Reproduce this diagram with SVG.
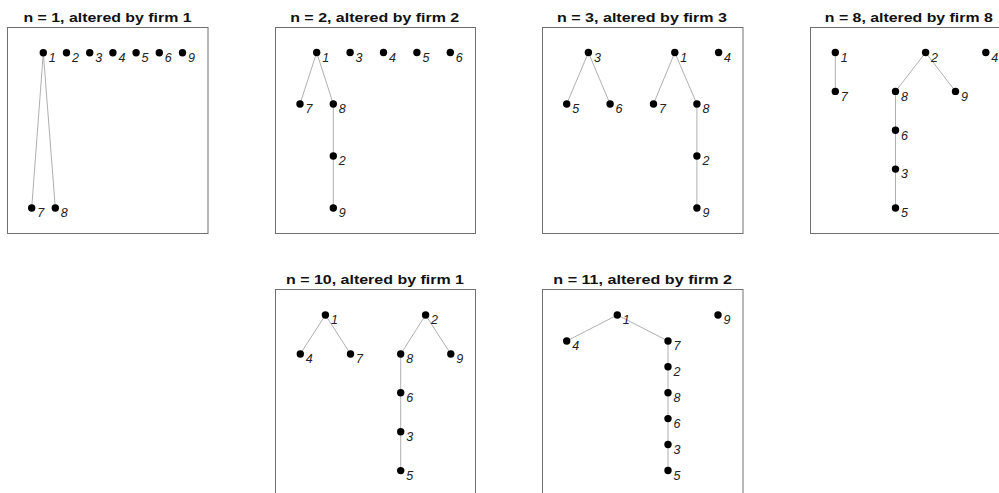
<svg xmlns="http://www.w3.org/2000/svg" width="999" height="493" viewBox="0 0 999 493">
<style>
.box{fill:#fff;stroke:#707070;stroke-width:1}
.title{font-family:"Liberation Sans",Arial,sans-serif;font-weight:bold;font-size:13.5px;fill:#111;text-anchor:middle}
.e{stroke:#b0b0b0;stroke-width:1;fill:none}
.d{fill:#000}
.l{font-family:"Liberation Sans",Arial,sans-serif;font-style:italic;font-size:12.5px;fill:#222}
</style>
<defs>
<circle id="dot" r="3.7" class="d"/>
</defs>
<rect width="999" height="493" fill="#fff"/>

<!-- Panel 1 -->
<g id="panel1">
<rect class="box" x="7.5" y="27.5" width="200.5" height="206"/>
<text class="title" x="107.5" y="21.7" textLength="168" lengthAdjust="spacingAndGlyphs">n = 1, altered by firm 1</text>
<g id="p1-edges">
<line class="e" x1="43.3" y1="52.7" x2="31.7" y2="208"/>
<line class="e" x1="43.3" y1="52.7" x2="55.3" y2="208"/>
</g>
<g id="p1-n1"><use href="#dot" x="43.3" y="52.7"/><text class="l" x="48.8" y="62">1</text></g>
<g id="p1-n2"><use href="#dot" x="66.5" y="52.7"/><text class="l" x="72" y="62">2</text></g>
<g id="p1-n3"><use href="#dot" x="89.7" y="52.7"/><text class="l" x="95.2" y="62">3</text></g>
<g id="p1-n4"><use href="#dot" x="112.9" y="52.7"/><text class="l" x="118.4" y="62">4</text></g>
<g id="p1-n5"><use href="#dot" x="136.1" y="52.7"/><text class="l" x="141.6" y="62">5</text></g>
<g id="p1-n6"><use href="#dot" x="159.3" y="52.7"/><text class="l" x="164.8" y="62">6</text></g>
<g id="p1-n9"><use href="#dot" x="182.5" y="52.7"/><text class="l" x="188" y="62">9</text></g>
<g id="p1-n7"><use href="#dot" x="31.7" y="208"/><text class="l" x="37.2" y="217.3">7</text></g>
<g id="p1-n8"><use href="#dot" x="55.3" y="208"/><text class="l" x="60.8" y="217.3">8</text></g>
</g>

<!-- Panel 2 -->
<g id="panel2">
<rect class="box" x="275.5" y="27.5" width="200" height="206"/>
<text class="title" x="374.7" y="21.7" textLength="169" lengthAdjust="spacingAndGlyphs">n = 2, altered by firm 2</text>
<g id="p2-edges">
<line class="e" x1="316.7" y1="52.5" x2="300" y2="104"/>
<line class="e" x1="316.7" y1="52.5" x2="333.3" y2="104"/>
<line class="e" x1="333.3" y1="104" x2="333.3" y2="156"/>
<line class="e" x1="333.3" y1="156" x2="333.3" y2="208"/>
</g>
<g id="p2-n1"><use href="#dot" x="316.7" y="52.5"/><text class="l" x="322.2" y="61.8">1</text></g>
<g id="p2-n3"><use href="#dot" x="350.1" y="52.5"/><text class="l" x="355.6" y="61.8">3</text></g>
<g id="p2-n4"><use href="#dot" x="383.5" y="52.5"/><text class="l" x="389" y="61.8">4</text></g>
<g id="p2-n5"><use href="#dot" x="416.9" y="52.5"/><text class="l" x="422.4" y="61.8">5</text></g>
<g id="p2-n6"><use href="#dot" x="450.3" y="52.5"/><text class="l" x="455.8" y="61.8">6</text></g>
<g id="p2-n7"><use href="#dot" x="300" y="104"/><text class="l" x="305.5" y="113.3">7</text></g>
<g id="p2-n8"><use href="#dot" x="333.3" y="104"/><text class="l" x="338.8" y="113.3">8</text></g>
<g id="p2-n2"><use href="#dot" x="333.3" y="156"/><text class="l" x="338.8" y="165.3">2</text></g>
<g id="p2-n9"><use href="#dot" x="333.3" y="208"/><text class="l" x="338.8" y="217.3">9</text></g>
</g>

<!-- Panel 3 -->
<g id="panel3">
<rect class="box" x="542.5" y="27.5" width="200.5" height="206"/>
<text class="title" x="642" y="21.7" textLength="170" lengthAdjust="spacingAndGlyphs">n = 3, altered by firm 3</text>
<g id="p3-edges">
<line class="e" x1="588.4" y1="52.5" x2="566.7" y2="104"/>
<line class="e" x1="588.4" y1="52.5" x2="610.1" y2="104"/>
<line class="e" x1="674.8" y1="52.5" x2="653.5" y2="104"/>
<line class="e" x1="674.8" y1="52.5" x2="696.9" y2="104"/>
<line class="e" x1="696.9" y1="104" x2="696.9" y2="156"/>
<line class="e" x1="696.9" y1="156" x2="696.9" y2="208"/>
</g>
<g id="p3-n3"><use href="#dot" x="588.4" y="52.5"/><text class="l" x="593.9" y="61.8">3</text></g>
<g id="p3-n5"><use href="#dot" x="566.7" y="104"/><text class="l" x="572.2" y="113.3">5</text></g>
<g id="p3-n6"><use href="#dot" x="610.1" y="104"/><text class="l" x="615.6" y="113.3">6</text></g>
<g id="p3-n1"><use href="#dot" x="674.8" y="52.5"/><text class="l" x="680.3" y="61.8">1</text></g>
<g id="p3-n4"><use href="#dot" x="718.6" y="52.5"/><text class="l" x="724.1" y="61.8">4</text></g>
<g id="p3-n7"><use href="#dot" x="653.5" y="104"/><text class="l" x="659" y="113.3">7</text></g>
<g id="p3-n8"><use href="#dot" x="696.9" y="104"/><text class="l" x="702.4" y="113.3">8</text></g>
<g id="p3-n2"><use href="#dot" x="696.9" y="156"/><text class="l" x="702.4" y="165.3">2</text></g>
<g id="p3-n9"><use href="#dot" x="696.9" y="208"/><text class="l" x="702.4" y="217.3">9</text></g>
</g>

<!-- Panel 4 -->
<g id="panel4">
<rect class="box" x="810.5" y="27.5" width="200" height="206"/>
<text class="title" x="908.8" y="21.7" textLength="168" lengthAdjust="spacingAndGlyphs">n = 8, altered by firm 8</text>
<g id="p4-edges">
<line class="e" x1="835.3" y1="52.5" x2="835.3" y2="91.4"/>
<line class="e" x1="925.6" y1="52.5" x2="895.5" y2="91.4"/>
<line class="e" x1="925.6" y1="52.5" x2="955.5" y2="91.4"/>
<line class="e" x1="895.5" y1="91.4" x2="895.5" y2="130.3"/>
<line class="e" x1="895.5" y1="130.3" x2="895.5" y2="169.1"/>
<line class="e" x1="895.5" y1="169.1" x2="895.5" y2="208"/>
</g>
<g id="p4-n1"><use href="#dot" x="835.3" y="52.5"/><text class="l" x="840.8" y="61.8">1</text></g>
<g id="p4-n7"><use href="#dot" x="835.3" y="91.4"/><text class="l" x="840.8" y="100.7">7</text></g>
<g id="p4-n2"><use href="#dot" x="925.6" y="52.5"/><text class="l" x="931.1" y="61.8">2</text></g>
<g id="p4-n4"><use href="#dot" x="985.8" y="52.5"/><text class="l" x="991.3" y="61.8">4</text></g>
<g id="p4-n8"><use href="#dot" x="895.5" y="91.4"/><text class="l" x="901" y="100.7">8</text></g>
<g id="p4-n9"><use href="#dot" x="955.5" y="91.4"/><text class="l" x="961" y="100.7">9</text></g>
<g id="p4-n6"><use href="#dot" x="895.5" y="130.3"/><text class="l" x="901" y="139.6">6</text></g>
<g id="p4-n3"><use href="#dot" x="895.5" y="169.1"/><text class="l" x="901" y="178.4">3</text></g>
<g id="p4-n5"><use href="#dot" x="895.5" y="208"/><text class="l" x="901" y="217.3">5</text></g>
</g>

<!-- Panel 5 -->
<g id="panel5">
<rect class="box" x="275.5" y="289.5" width="200" height="206"/>
<text class="title" x="375" y="284" textLength="178" lengthAdjust="spacingAndGlyphs">n = 10, altered by firm 1</text>
<g id="p5-edges">
<line class="e" x1="325.4" y1="315" x2="300.3" y2="354"/>
<line class="e" x1="325.4" y1="315" x2="350.5" y2="354"/>
<line class="e" x1="425.6" y1="315" x2="400.7" y2="354"/>
<line class="e" x1="425.6" y1="315" x2="450.8" y2="354"/>
<line class="e" x1="400.7" y1="354" x2="400.7" y2="392.8"/>
<line class="e" x1="400.7" y1="392.8" x2="400.7" y2="431.7"/>
<line class="e" x1="400.7" y1="431.7" x2="400.7" y2="470.6"/>
</g>
<g id="p5-n1"><use href="#dot" x="325.4" y="315"/><text class="l" x="330.9" y="324.3">1</text></g>
<g id="p5-n4"><use href="#dot" x="300.3" y="354"/><text class="l" x="305.8" y="363.3">4</text></g>
<g id="p5-n7"><use href="#dot" x="350.5" y="354"/><text class="l" x="356" y="363.3">7</text></g>
<g id="p5-n2"><use href="#dot" x="425.6" y="315"/><text class="l" x="431.1" y="324.3">2</text></g>
<g id="p5-n8"><use href="#dot" x="400.7" y="354"/><text class="l" x="406.2" y="363.3">8</text></g>
<g id="p5-n9"><use href="#dot" x="450.8" y="354"/><text class="l" x="456.3" y="363.3">9</text></g>
<g id="p5-n6"><use href="#dot" x="400.7" y="392.8"/><text class="l" x="406.2" y="402.1">6</text></g>
<g id="p5-n3"><use href="#dot" x="400.7" y="431.7"/><text class="l" x="406.2" y="441">3</text></g>
<g id="p5-n5"><use href="#dot" x="400.7" y="470.6"/><text class="l" x="406.2" y="479.9">5</text></g>
</g>

<!-- Panel 6 -->
<g id="panel6">
<rect class="box" x="542.5" y="289.5" width="200.5" height="206"/>
<text class="title" x="642.7" y="284" textLength="178.7" lengthAdjust="spacingAndGlyphs">n = 11, altered by firm 2</text>
<g id="p6-edges">
<line class="e" x1="617.3" y1="315" x2="566.7" y2="341"/>
<line class="e" x1="617.3" y1="315" x2="668" y2="341"/>
<line class="e" x1="668" y1="341" x2="668" y2="366.8"/>
<line class="e" x1="668" y1="366.8" x2="668" y2="392.7"/>
<line class="e" x1="668" y1="392.7" x2="668" y2="418.6"/>
<line class="e" x1="668" y1="418.6" x2="668" y2="444.5"/>
<line class="e" x1="668" y1="444.5" x2="668" y2="470.5"/>
</g>
<g id="p6-n1"><use href="#dot" x="617.3" y="315"/><text class="l" x="622.8" y="324.3">1</text></g>
<g id="p6-n4"><use href="#dot" x="566.7" y="341"/><text class="l" x="572.2" y="350.3">4</text></g>
<g id="p6-n7"><use href="#dot" x="668" y="341"/><text class="l" x="673.5" y="350.3">7</text></g>
<g id="p6-n9"><use href="#dot" x="718" y="315"/><text class="l" x="723.5" y="324.3">9</text></g>
<g id="p6-n2"><use href="#dot" x="668" y="366.8"/><text class="l" x="673.5" y="376.1">2</text></g>
<g id="p6-n8"><use href="#dot" x="668" y="392.7"/><text class="l" x="673.5" y="402">8</text></g>
<g id="p6-n6"><use href="#dot" x="668" y="418.6"/><text class="l" x="673.5" y="427.9">6</text></g>
<g id="p6-n3"><use href="#dot" x="668" y="444.5"/><text class="l" x="673.5" y="453.8">3</text></g>
<g id="p6-n5"><use href="#dot" x="668" y="470.5"/><text class="l" x="673.5" y="479.8">5</text></g>
</g>
</svg>
